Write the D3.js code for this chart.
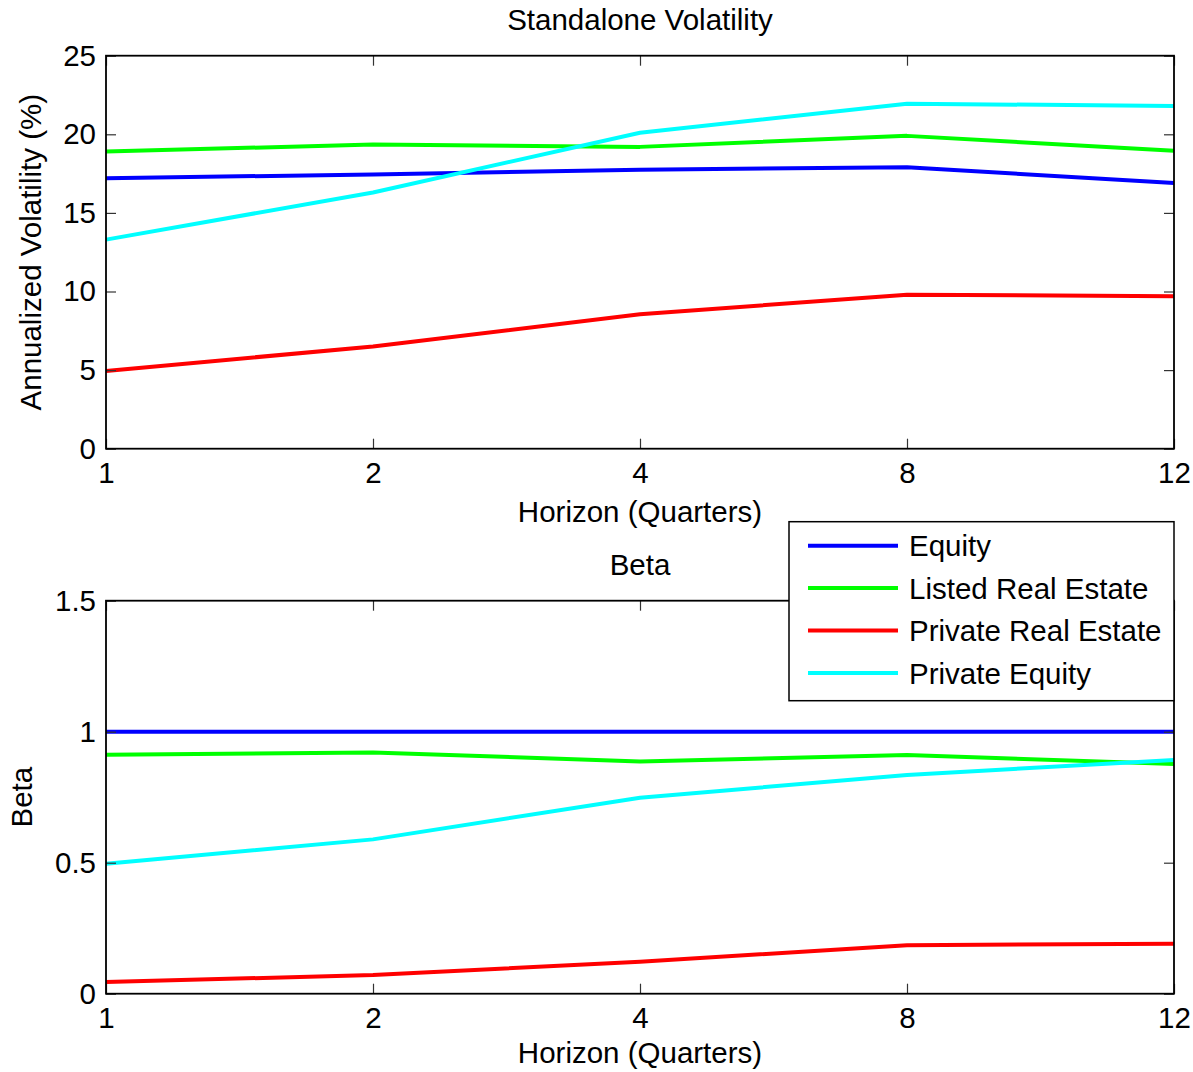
<!DOCTYPE html>
<html lang="en">
<head>
<meta charset="UTF-8">
<title>Standalone Volatility and Beta</title>
<style>
body { margin: 0; background: #fff; }
svg { display: block; font-family: "Liberation Sans", Arial, sans-serif; }
.axis text { font-size: 29.5px; fill: #000; }
.axis path { display: none; }
.axis line { stroke: #333; stroke-width: 1.2px; }
.frame { fill: none; stroke: #000; stroke-width: 1.8px; }
.series { fill: none; stroke-width: 4px; stroke-linejoin: round; }
.lbl { font-size: 29.5px; fill: #000; }
</style>
</head>
<body>
<script src="https://cdnjs.cloudflare.com/ajax/libs/d3/7.8.5/d3.min.js"></script>
<script>
// horizons (categorical, equally spaced)
var horizons = ["1", "2", "4", "8", "12"];
var seriesNames = ["Equity", "Listed Real Estate", "Private Real Estate", "Private Equity"];
var seriesColors = ["#0000ff", "#00ff00", "#ff0000", "#00ffff"];

// Standalone volatility (%)
var volEquity = [17.2, 17.45, 17.75, 17.9, 16.9];
var volListed = [18.9, 19.35, 19.2, 19.9, 18.95];
var volPrivRE = [4.95, 6.5, 8.55, 9.8, 9.7];
var volPrivEq = [13.3, 16.3, 20.1, 21.95, 21.8];
var volTicks = [0, 5, 10, 15, 20, 25];

// Beta
var betaEquity = [1, 1, 1, 1, 1];
var betaListed = [0.912, 0.921, 0.886, 0.911, 0.877];
var betaPrivRE = [0.045, 0.071, 0.122, 0.185, 0.191];
var betaPrivEq = [0.496, 0.589, 0.748, 0.835, 0.892];
var betaTicks = [0, 0.5, 1, 1.5];

var W = 1193, H = 1072;
var left = 106, right = 1174;

var svg = d3.select("body").append("svg")
  .attr("width", W)
  .attr("height", H);

var x = d3.scalePoint().domain(horizons).range([left, right]);

function panel(opts) {
  var y = d3.scaleLinear().domain(opts.domain).range([opts.bottom, opts.top]);
  var g = svg.append("g");

  // lines
  var line = d3.line()
    .x(function (d, i) { return x(horizons[i]); })
    .y(function (d) { return y(d); });
  opts.series.forEach(function (s, k) {
    g.append("path")
      .attr("class", "series")
      .attr("stroke", seriesColors[k])
      .attr("d", line(s));
  });

  // ticks, inward on all four sides
  g.append("g").attr("class", "axis")
    .attr("transform", "translate(0," + opts.bottom + ")")
    .call(d3.axisBottom(x).tickSize(-10).tickPadding(13))
    .selectAll("text").attr("dy", "0.71em");
  g.append("g").attr("class", "axis")
    .attr("transform", "translate(0," + opts.top + ")")
    .call(d3.axisTop(x).tickSize(-10).tickFormat(""));
  g.append("g").attr("class", "axis")
    .attr("transform", "translate(" + left + ",0)")
    .call(d3.axisLeft(y).tickValues(opts.ticks).tickSize(-10).tickPadding(10)
      .tickFormat(d3.format("")));
  g.append("g").attr("class", "axis")
    .attr("transform", "translate(" + right + ",0)")
    .call(d3.axisRight(y).tickValues(opts.ticks).tickSize(-10).tickFormat(""));

  g.append("rect").attr("class", "frame")
    .attr("x", left).attr("y", opts.top)
    .attr("width", right - left).attr("height", opts.bottom - opts.top);

  // title and labels
  g.append("text").attr("class", "lbl")
    .attr("x", (left + right) / 2).attr("y", opts.top - 26)
    .attr("text-anchor", "middle").text(opts.title);
  g.append("text").attr("class", "lbl")
    .attr("x", (left + right) / 2).attr("y", opts.bottom + opts.xlabelOffset)
    .attr("text-anchor", "middle").text("Horizon (Quarters)");
  g.append("text").attr("class", "lbl")
    .attr("transform", "translate(" + opts.ylabelX + "," + ((opts.top + opts.bottom) / 2) + ") rotate(-90)")
    .attr("text-anchor", "middle").text(opts.ylabel);
}

panel({
  top: 55.7, bottom: 448.7, domain: [0, 25], ticks: volTicks,
  series: [volEquity, volListed, volPrivRE, volPrivEq],
  title: "Standalone Volatility", ylabel: "Annualized Volatility (%)",
  ylabelX: 41, xlabelOffset: 73
});

panel({
  top: 600.7, bottom: 993.7, domain: [0, 1.5], ticks: betaTicks,
  series: [betaEquity, betaListed, betaPrivRE, betaPrivEq],
  title: "Beta", ylabel: "Beta", ylabelX: 32, xlabelOffset: 69
});

// legend
var lg = svg.append("g").attr("transform", "translate(789,521.7)");
lg.append("rect")
  .attr("width", 385).attr("height", 179)
  .attr("fill", "#fff").attr("stroke", "#000").attr("stroke-width", 1.5);
seriesNames.forEach(function (name, k) {
  var cy = 24 + k * 42.4;
  lg.append("line")
    .attr("x1", 19).attr("x2", 109).attr("y1", cy).attr("y2", cy)
    .attr("stroke", seriesColors[k]).attr("stroke-width", 4);
  lg.append("text").attr("class", "lbl")
    .attr("x", 120).attr("y", cy).attr("dy", "0.36em").text(name);
});
</script>
</body>
</html>
